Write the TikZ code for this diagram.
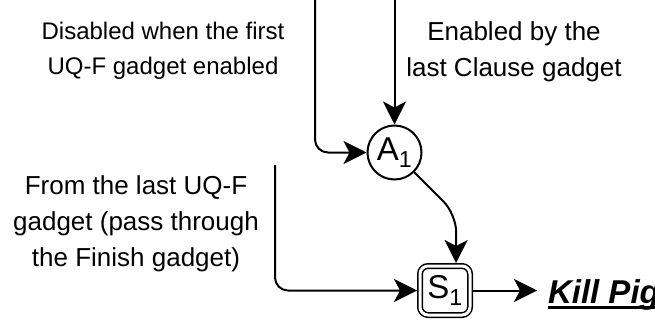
\documentclass[tikz,border=0pt]{standalone}
\usepackage{fontspec}
\setmainfont{Liberation Sans}
\usetikzlibrary{arrows.meta, positioning}

\newcommand{\killul}[1]{\setbox0\hbox{#1}\rlap{\raisebox{-5.5pt}{\rule{\wd0}{2.5pt}}}\box0}

\begin{document}
\begin{tikzpicture}[
    x=1pt, y=-1pt,
    line width=2pt,
    >={Stealth[length=23pt, width=23pt, inset=6pt]},
    note/.style={align=center, inner sep=0pt, font=\fontsize{26}{36}\selectfont},
    gate/.style={draw, circle, minimum size=54pt, inner sep=0pt, font=\fontsize{33}{38}\selectfont},
    sink/.style={draw, double, double distance=3pt, line width=1.5pt, rounded corners=8pt,
        minimum width=50pt, minimum height=49pt, inner sep=0pt, outer sep=3pt,
        font=\fontsize{33}{38}\selectfont}
]

\useasboundingbox (0,0) rectangle (655,322);

\node[gate] (a1) at (394.5,152.5) {A\textsubscript{1}};
\node[sink] (s1) at (445,290.5) {S\textsubscript{1}};

\node[note, font=\fontsize{24}{35}\selectfont] (dis) at (163,51) {Disabled when the first\\UQ-F gadget enabled};
\node[note] (ena) at (514,52) {Enabled by the\\last Clause gadget};
\node[note] (from) at (136,224) {From the last UQ-F\\gadget (pass through\\the Finish gadget)};
\node[anchor=base west, inner xsep=10pt, inner ysep=0pt,
    font=\fontsize{33}{40}\selectfont\bfseries\itshape] (kill) at (537,303) {\killul{Kill Pig}};

% free ends at the top and left
\coordinate (d0) at (315,0);
\coordinate (e0) at (394.5,0);
\coordinate (f0) at (275,165);

\draw[->, rounded corners=13pt] (d0) |- (a1.west);
\draw[->] (e0) -- (a1.north);
\draw[->, rounded corners=13pt] (f0) |- (s1.west);
\draw[->, rounded corners=18pt] (a1.-45) -- ++(42,42) -- ([xshift=11pt]s1.north);
\draw[->] (s1.east) -- (s1.east -| kill.west);

\end{tikzpicture}
\end{document}
